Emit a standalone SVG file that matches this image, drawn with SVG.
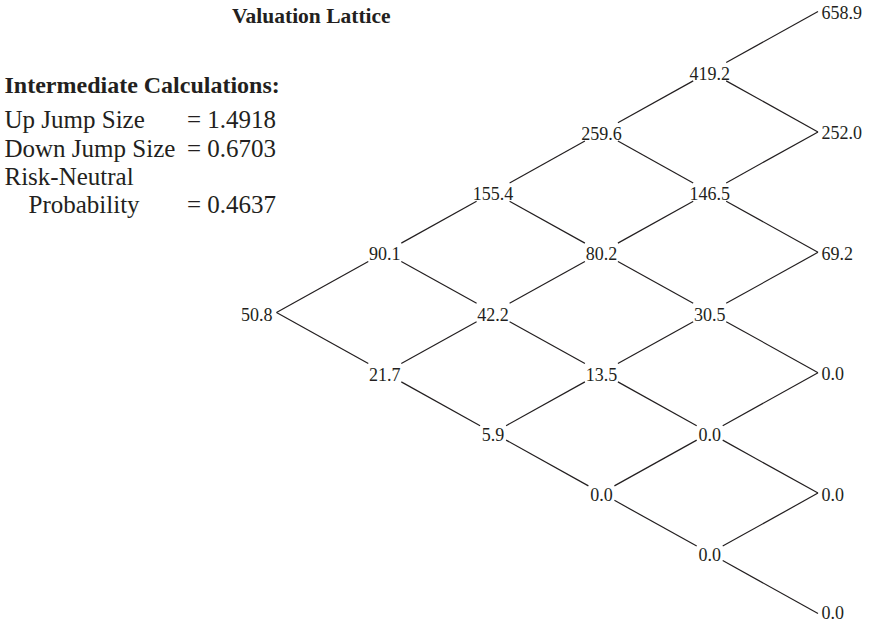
<svg xmlns="http://www.w3.org/2000/svg" width="873" height="623" viewBox="0 0 873 623">
<style>
text{font-family:"Liberation Serif","Times New Roman",serif;fill:#231f20}
.t{font-size:21.5px;font-weight:bold}
.h{font-size:24px;font-weight:bold}
.b{font-size:25px}
.n{font-size:18px}
.m{text-anchor:middle}
.e{text-anchor:end}
#edges line{stroke:#231f20;stroke-width:1.2;fill:none}
</style>
<rect width="873" height="623" fill="#fff"/>
<g id="title"><text class="t" x="232" y="23">Valuation Lattice</text></g>
<g id="calc">
<text class="h" x="4.5" y="93">Intermediate Calculations:</text>
<text class="b" x="4.5" y="128.3">Up Jump Size</text>
<text class="b" x="187" y="128.3">= 1.4918</text>
<text class="b" x="4.5" y="156.7">Down Jump Size</text>
<text class="b" x="187" y="156.7">= 0.6703</text>
<text class="b" x="4.5" y="185">Risk-Neutral</text>
<text class="b" x="28.5" y="213.3">Probability</text>
<text class="b" x="187" y="213.3">= 0.4637</text>
</g>
<g id="edges">
<line x1="276.5" y1="312.5" x2="368.3" y2="261.47"/>
<line x1="276.5" y1="312.5" x2="368.3" y2="363.53"/>
<line x1="401.3" y1="243.13" x2="476.6" y2="201.27"/>
<line x1="401.3" y1="261.47" x2="476.6" y2="303.33"/>
<line x1="401.3" y1="363.53" x2="476.6" y2="321.67"/>
<line x1="401.3" y1="381.87" x2="480.1" y2="425.67"/>
<line x1="509.6" y1="182.93" x2="584.9" y2="141.07"/>
<line x1="509.6" y1="201.27" x2="584.9" y2="243.13"/>
<line x1="509.6" y1="303.33" x2="584.9" y2="261.47"/>
<line x1="509.6" y1="321.67" x2="584.9" y2="363.53"/>
<line x1="506.1" y1="425.67" x2="584.9" y2="381.87"/>
<line x1="506.1" y1="440.13" x2="588.4" y2="485.87"/>
<line x1="617.9" y1="122.73" x2="693.2" y2="80.87"/>
<line x1="617.9" y1="141.07" x2="693.2" y2="182.93"/>
<line x1="617.9" y1="243.13" x2="693.2" y2="201.27"/>
<line x1="617.9" y1="261.47" x2="693.2" y2="303.33"/>
<line x1="617.9" y1="363.53" x2="693.2" y2="321.67"/>
<line x1="617.9" y1="381.87" x2="696.7" y2="425.67"/>
<line x1="614.4" y1="485.87" x2="696.7" y2="440.13"/>
<line x1="614.4" y1="500.33" x2="696.7" y2="546.07"/>
<line x1="726.2" y1="62.53" x2="818" y2="11.5"/>
<line x1="726.2" y1="80.87" x2="818" y2="131.9"/>
<line x1="726.2" y1="182.93" x2="818" y2="131.9"/>
<line x1="726.2" y1="201.27" x2="818" y2="252.3"/>
<line x1="726.2" y1="303.33" x2="818" y2="252.3"/>
<line x1="726.2" y1="321.67" x2="818" y2="372.7"/>
<line x1="722.7" y1="425.67" x2="818" y2="372.7"/>
<line x1="722.7" y1="440.13" x2="818" y2="493.1"/>
<line x1="722.7" y1="546.07" x2="818" y2="493.1"/>
<line x1="722.7" y1="560.53" x2="818" y2="613.5"/>
</g>
<g id="n0"><text class="n e" x="272.5" y="320.5">50.8</text></g>
<g id="n1u"><text class="n m" x="384.8" y="260.3">90.1</text></g>
<g id="n1d"><text class="n m" x="384.8" y="380.7">21.7</text></g>
<g id="n2a"><text class="n m" x="493.1" y="200.1">155.4</text></g>
<g id="n2b"><text class="n m" x="493.1" y="320.5">42.2</text></g>
<g id="n2c"><text class="n m" x="493.1" y="440.9">5.9</text></g>
<g id="n3a"><text class="n m" x="601.4" y="139.9">259.6</text></g>
<g id="n3b"><text class="n m" x="601.4" y="260.3">80.2</text></g>
<g id="n3c"><text class="n m" x="601.4" y="380.7">13.5</text></g>
<g id="n3d"><text class="n m" x="601.4" y="501.1">0.0</text></g>
<g id="n4a"><text class="n m" x="709.7" y="79.7">419.2</text></g>
<g id="n4b"><text class="n m" x="709.7" y="200.1">146.5</text></g>
<g id="n4c"><text class="n m" x="709.7" y="320.5">30.5</text></g>
<g id="n4d"><text class="n m" x="709.7" y="440.9">0.0</text></g>
<g id="n4e"><text class="n m" x="709.7" y="561.3">0.0</text></g>
<g id="n5a"><text class="n" x="821.5" y="19">658.9</text></g>
<g id="n5b"><text class="n" x="821.5" y="139.4">252.0</text></g>
<g id="n5c"><text class="n" x="821.5" y="259.8">69.2</text></g>
<g id="n5d"><text class="n" x="821.5" y="380.2">0.0</text></g>
<g id="n5e"><text class="n" x="821.5" y="500.6">0.0</text></g>
<g id="n5f"><text class="n" x="821.5" y="618.5">0.0</text></g>
</svg>
